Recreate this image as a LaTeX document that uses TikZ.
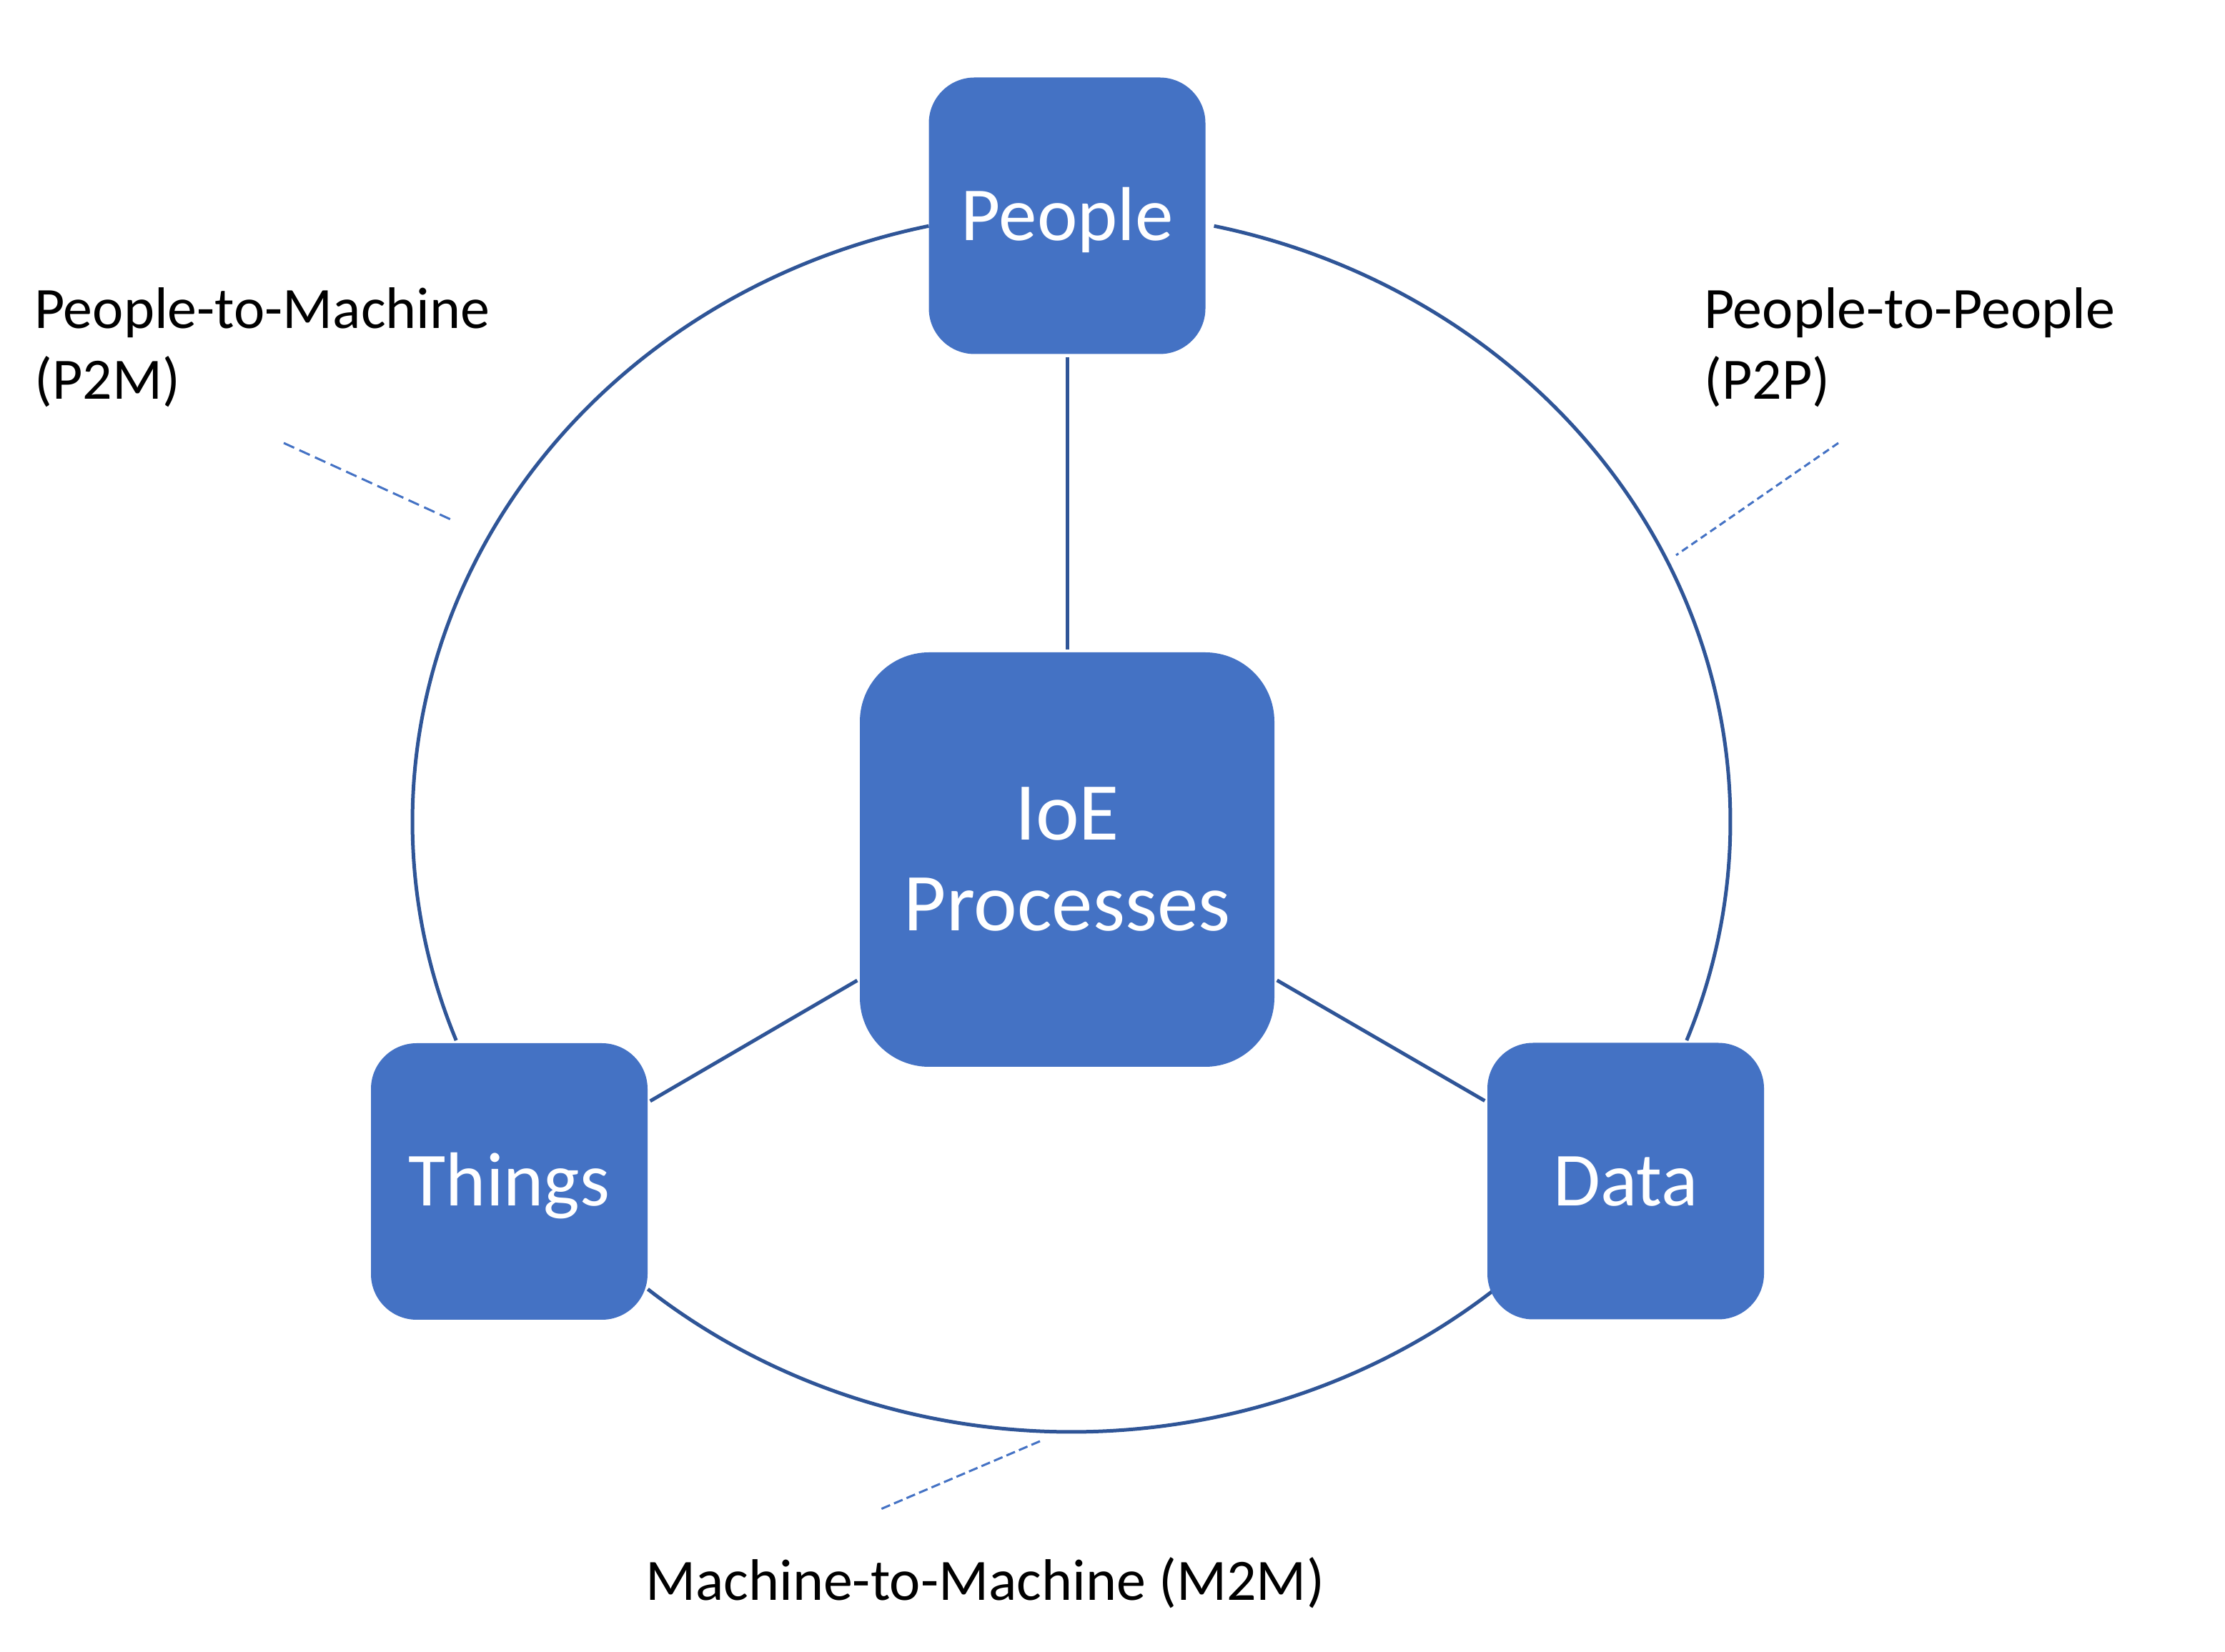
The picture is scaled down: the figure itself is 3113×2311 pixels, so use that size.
\documentclass[tikz,border=0pt]{standalone}
\usepackage{fontspec}
\setmainfont{Carlito}
\definecolor{boxblue}{HTML}{4472C4}
\definecolor{linedark}{HTML}{2F5597}
\begin{document}
\begin{tikzpicture}[x=1pt,y=1pt,
  smallbox/.style={fill=boxblue, draw=none, rounded corners=64pt,
    minimum width=387pt, minimum height=387pt, inner sep=0pt, text=white,
    font=\fontsize{107}{128}\selectfont, text height=69pt, text depth=0pt},
  bigbox/.style={fill=boxblue, draw=none, rounded corners=97pt,
    minimum width=580pt, minimum height=580pt, inner sep=0pt, text=white,
    align=center, font=\fontsize{115}{127}\selectfont},
  conn/.style={draw=linedark, line width=5pt, shorten <=4pt, shorten >=4pt},
  arcline/.style={draw=linedark, line width=5pt},
  callout/.style={draw=boxblue, line width=3pt, dash pattern=on 13pt off 7pt},
  lbl/.style={font=\fontsize{82}{99}\selectfont, align=left, anchor=base west, inner sep=0pt, text=black}
]
\useasboundingbox (0,0) rectangle (3113,2311);

% ellipse arcs
\coordinate (ec) at (1499,1161);
\draw[arcline] (ec) ++(102.5:922 and 854) arc[start angle=102.5, end angle=201, x radius=922, y radius=854];
\draw[arcline] (ec) ++(77.5:922 and 854) arc[start angle=77.5, end angle=-21, x radius=922, y radius=854];
\draw[arcline] (ec) ++(230:922 and 854) arc[start angle=230, end angle=310, x radius=922, y radius=854];

% boxes
\node[smallbox] (people) at (1493,2009) {People};
\node[bigbox] (ioe) at (1493,1108) {IoE\\Processes};
\node[smallbox] (things) at (712.5,657.5) {Things};
\node[smallbox] (data) at (2274.5,658) {Data};

% connectors
\draw[conn] (people) -- (ioe);
\draw[conn] (ioe) -- (things);
\draw[conn] (ioe) -- (data);

% callout lines
\coordinate (p2ma) at (397,1691);
\coordinate (p2mb) at (635,1582);
\coordinate (p2pa) at (2572,1691);
\coordinate (p2pb) at (2345,1534);
\coordinate (m2ma) at (1455,294);
\coordinate (m2mb) at (1230,198);
\draw[callout, dash pattern=on 16pt off 8pt] (p2ma) -- (p2mb);
\draw[callout, dash pattern=on 10pt off 6pt] (p2pa) -- (p2pb);
\draw[callout, dash pattern=on 13pt off 6pt] (m2ma) -- (m2mb);

% labels (base anchor is the last line's baseline)
\node[lbl] (p2m) at (48,1752) {People-to-Machine\\(P2M)};
\node[lbl] (p2p) at (2384,1752) {People-to-People\\(P2P)};
\node[lbl] (m2m) at (903,72) {Machine-to-Machine (M2M)};
\end{tikzpicture}
\end{document}
